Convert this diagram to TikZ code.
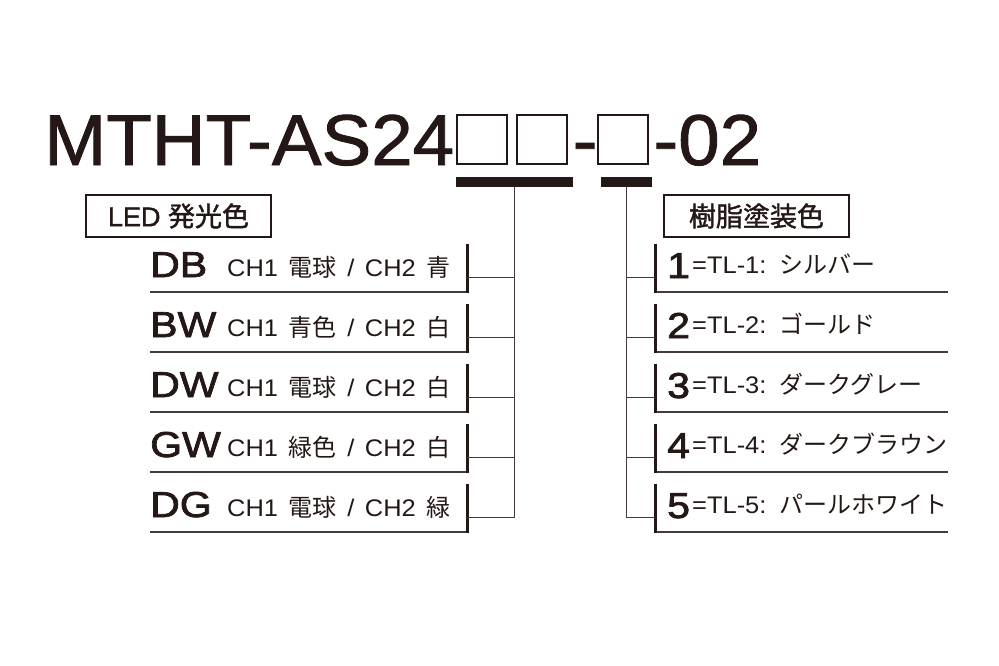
\documentclass[tikz,border=0pt]{standalone}
\usepackage{fontspec}
\setmainfont{Liberation Sans}
\newfontfamily\jp{Noto Sans CJK JP}
\newfontfamily\jpm[FakeBold=1.5]{Noto Sans CJK JP}
\newfontfamily\tagfont[FakeBold=1.5]{Liberation Sans}
\newfontfamily\titlefont[FakeStretch=1.035,FakeBold=1.2]{Liberation Sans}
\newfontfamily\codefont[FakeStretch=1.14,FakeBold=2]{Liberation Sans}
\newfontfamily\descfont[FakeStretch=1.06,WordSpace=1.5]{Liberation Sans}
\definecolor{ink}{HTML}{231815}
\setlength\fboxsep{0pt}
\setlength\fboxrule{2pt}
\newcommand\blankbox{\raisebox{2pt}{\fbox{\rule{0pt}{47pt}\rule{48pt}{0pt}}}}
\begin{document}
\begin{tikzpicture}[x=1pt,y=-1pt,color=ink]
	\tikzset{codetext/.style = {anchor=base west,inner sep=0,font=\codefont\fontsize{36}{36}\selectfont}}
	\tikzset{desctext/.style = {anchor=base west,inner sep=0,font=\descfont\fontsize{24}{24}\selectfont}}
	\tikzset{tagbox/.style = {draw,line width=1.5pt,minimum width=185pt,minimum height=42pt,inner sep=0,font=\fontsize{27}{27}\selectfont}}
	\tikzset{keybar/.style = {fill,inner sep=0,minimum height=10pt}}
	\tikzset{rowline/.style = {draw=ink!85,line width=1.6pt}}
	\tikzset{rowbar/.style = {draw,line width=3pt}}
	\tikzset{link/.style = {draw=ink!85,line width=1pt}}
	\useasboundingbox (0,0) rectangle (999,666);
	% model number
	\node[anchor=base west,inner sep=0,font=\titlefont\fontsize{72}{72}\selectfont] (model) at (44,165)
		{MTHT-AS24\kern1.5pt\blankbox\kern8pt\blankbox\kern5pt-\blankbox\kern4pt-02};
	\node[keybar,minimum width=117pt] (ledkey) at (514.5,182) {};
	\node[keybar,minimum width=51pt] (colkey) at (626,182) {};
	\node[tagbox] (ledtag) at (178.5,216) {\tagfont LED {\jpm 発光色}};
	\node[tagbox] (coltag) at (756.5,216) {\jpm 樹脂塗装色};
	% LED colours
	\node[codetext] (db) at (150,277) {DB};
	\node[desctext] (dbtxt) at (227,276) {CH1 {\jp 電球} / CH2 {\jp 青}};
	\draw[rowline] (150,292) -- (467,292);
	\draw[rowbar] (467,244) -- (467,293);
	\coordinate (dbpin) at (467,277);
	\path[link] (ledkey.south) |- (dbpin);
	\node[codetext] (bw) at (150,337) {BW};
	\node[desctext] (bwtxt) at (227,336) {CH1 {\jp 青色} / CH2 {\jp 白}};
	\draw[rowline] (150,352) -- (467,352);
	\draw[rowbar] (467,304) -- (467,353);
	\coordinate (bwpin) at (467,337);
	\path[link] (ledkey.south) |- (bwpin);
	\node[codetext] (dw) at (150,397) {DW};
	\node[desctext] (dwtxt) at (227,396) {CH1 {\jp 電球} / CH2 {\jp 白}};
	\draw[rowline] (150,412) -- (467,412);
	\draw[rowbar] (467,364) -- (467,413);
	\coordinate (dwpin) at (467,397);
	\path[link] (ledkey.south) |- (dwpin);
	\node[codetext] (gw) at (150,457) {GW};
	\node[desctext] (gwtxt) at (227,456) {CH1 {\jp 緑色} / CH2 {\jp 白}};
	\draw[rowline] (150,472) -- (467,472);
	\draw[rowbar] (467,424) -- (467,473);
	\coordinate (gwpin) at (467,457);
	\path[link] (ledkey.south) |- (gwpin);
	\node[codetext] (dg) at (150,517) {DG};
	\node[desctext] (dgtxt) at (227,516) {CH1 {\jp 電球} / CH2 {\jp 緑}};
	\draw[rowline] (150,532) -- (467,532);
	\draw[rowbar] (467,484) -- (467,533);
	\coordinate (dgpin) at (467,517);
	\path[link] (ledkey.south) |- (dgpin);
	% resin colours
	\node[codetext] (tl1) at (667,278) {1};
	\node[desctext] (tl1txt) at (692,273) {=TL-1: {\jp シルバー}};
	\draw[rowline] (655,292) -- (948,292);
	\draw[rowbar] (655,244) -- (655,293);
	\coordinate (tl1pin) at (655,277);
	\path[link] (colkey.south) |- (tl1pin);
	\node[codetext] (tl2) at (667,338) {2};
	\node[desctext] (tl2txt) at (692,333) {=TL-2: {\jp ゴールド}};
	\draw[rowline] (655,352) -- (948,352);
	\draw[rowbar] (655,304) -- (655,353);
	\coordinate (tl2pin) at (655,337);
	\path[link] (colkey.south) |- (tl2pin);
	\node[codetext] (tl3) at (667,398) {3};
	\node[desctext] (tl3txt) at (692,393) {=TL-3: {\jp ダークグレー}};
	\draw[rowline] (655,412) -- (948,412);
	\draw[rowbar] (655,364) -- (655,413);
	\coordinate (tl3pin) at (655,397);
	\path[link] (colkey.south) |- (tl3pin);
	\node[codetext] (tl4) at (667,458) {4};
	\node[desctext] (tl4txt) at (692,453) {=TL-4: {\jp ダークブラウン}};
	\draw[rowline] (655,472) -- (948,472);
	\draw[rowbar] (655,424) -- (655,473);
	\coordinate (tl4pin) at (655,457);
	\path[link] (colkey.south) |- (tl4pin);
	\node[codetext] (tl5) at (667,518) {5};
	\node[desctext] (tl5txt) at (692,513) {=TL-5: {\jp パールホワイト}};
	\draw[rowline] (655,532) -- (948,532);
	\draw[rowbar] (655,484) -- (655,533);
	\coordinate (tl5pin) at (655,517);
	\path[link] (colkey.south) |- (tl5pin);
\end{tikzpicture}
\end{document}
